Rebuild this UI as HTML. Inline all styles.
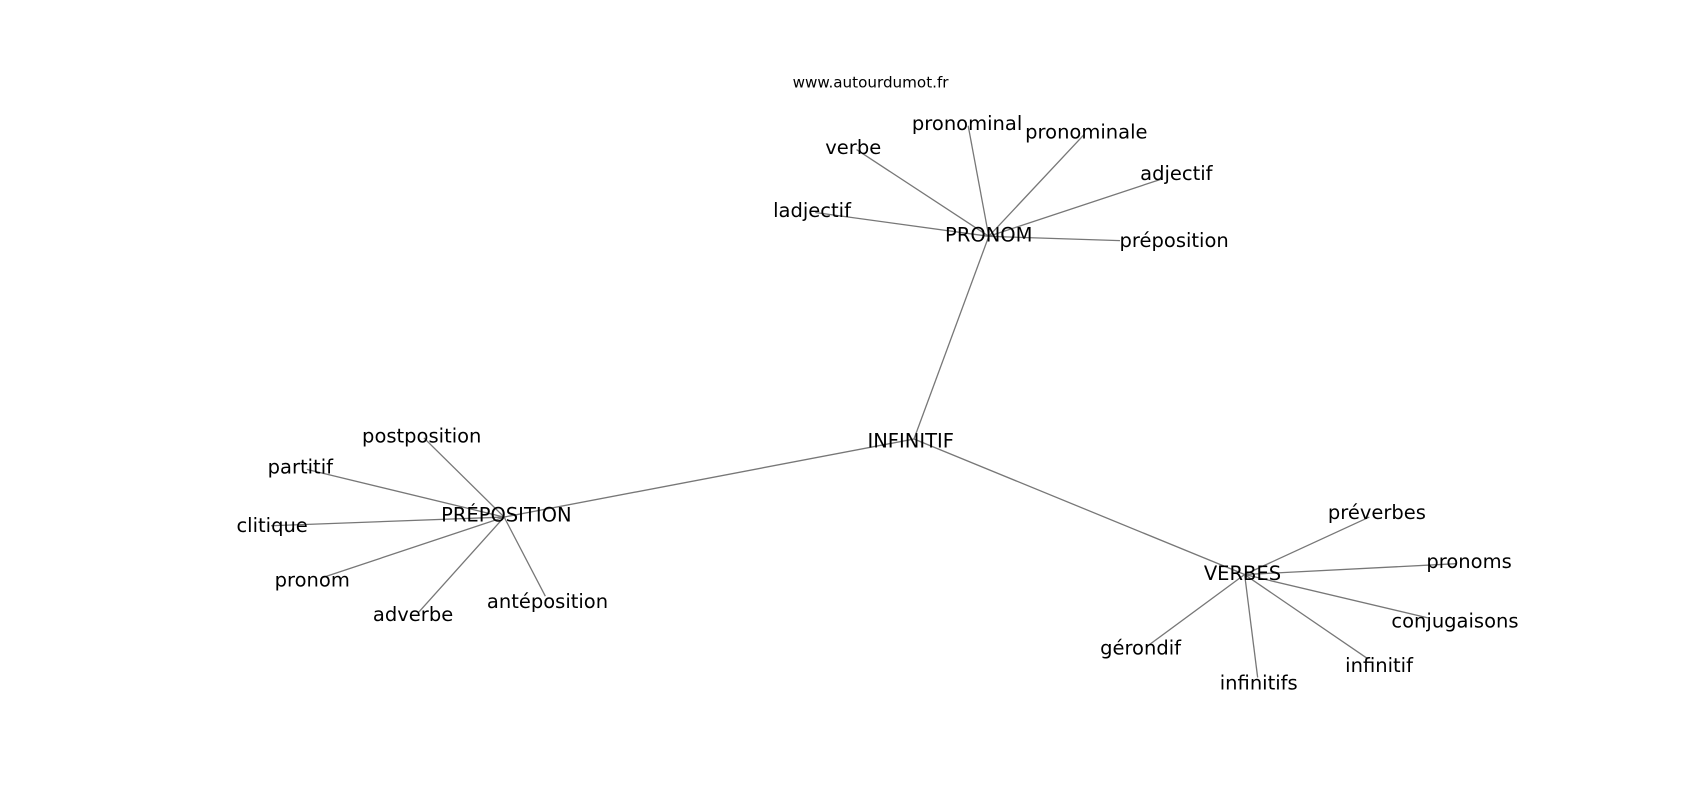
<!DOCTYPE html>
<html><head><meta charset="utf-8"><style>
html,body{margin:0;padding:0;background:#fff;}
svg text{font-family:"DejaVu Sans","Liberation Sans",sans-serif;fill:#000;}
</style></head><body>
<svg width="1700" height="800" viewBox="0 0 1568 738" preserveAspectRatio="none" xmlns="http://www.w3.org/2000/svg">
<g stroke="#777" stroke-width="1.2">
<line x1="843" y1="405" x2="912" y2="218"/>
<line x1="843" y1="405" x2="465" y2="477"/>
<line x1="843" y1="405" x2="1148" y2="530"/>
<line x1="912" y1="218" x2="790" y2="138"/>
<line x1="912" y1="218" x2="893" y2="116"/>
<line x1="912" y1="218" x2="1000" y2="124"/>
<line x1="912" y1="218" x2="1072" y2="165"/>
<line x1="912" y1="218" x2="1033" y2="222"/>
<line x1="912" y1="218" x2="752" y2="196"/>
<line x1="465" y1="477" x2="391" y2="404"/>
<line x1="465" y1="477" x2="283" y2="433"/>
<line x1="465" y1="477" x2="250" y2="485"/>
<line x1="465" y1="477" x2="297" y2="533"/>
<line x1="465" y1="477" x2="386" y2="565"/>
<line x1="465" y1="477" x2="503" y2="550"/>
<line x1="1148" y1="530" x2="1263" y2="477"/>
<line x1="1148" y1="530" x2="1343" y2="520"/>
<line x1="1148" y1="530" x2="1317" y2="570"/>
<line x1="1148" y1="530" x2="1262" y2="608"/>
<line x1="1148" y1="530" x2="1160" y2="625"/>
<line x1="1148" y1="530" x2="1057" y2="597"/>
</g>
<g font-size="18" text-anchor="middle" dominant-baseline="central">
<text x="803" y="76" font-size="14">www.autourdumot.fr</text>
<text x="840" y="407">INFINITIF</text>
<text x="912" y="217">PRONOM</text>
<text x="467" y="475">PRÉPOSITION</text>
<text x="1146" y="529">VERBES</text>
<text x="787" y="136">verbe</text>
<text x="892" y="114">pronominal</text>
<text x="1002" y="122">pronominale</text>
<text x="1085" y="160">adjectif</text>
<text x="1083" y="222">préposition</text>
<text x="749" y="194">ladjectif</text>
<text x="389" y="402">postposition</text>
<text x="277" y="431">partitif</text>
<text x="251" y="485">clitique</text>
<text x="288" y="535">pronom</text>
<text x="381" y="567">adverbe</text>
<text x="505" y="555">antéposition</text>
<text x="1270" y="473">préverbes</text>
<text x="1355" y="518">pronoms</text>
<text x="1342" y="573">conjugaisons</text>
<text x="1272" y="614">infinitif</text>
<text x="1161" y="630">infinitifs</text>
<text x="1052" y="598">gérondif</text>
</g>
</svg>
</body></html>
